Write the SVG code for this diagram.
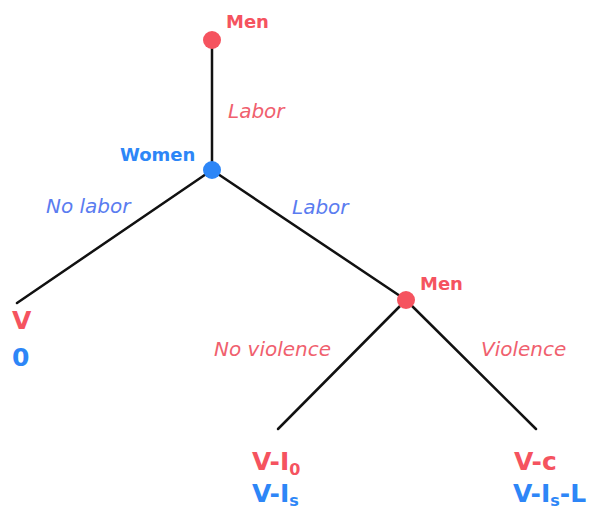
<svg xmlns="http://www.w3.org/2000/svg" width="592" height="511" viewBox="0 0 592 511">
<style>
.edge{stroke:#111;stroke-width:2.5;stroke-linecap:round;fill:none}
.name{font-family:"DejaVu Sans",Verdana,sans-serif;font-weight:bold;font-size:18px}
.act{font-family:"DejaVu Sans",Verdana,sans-serif;font-style:italic;font-size:20px}
.pay{font-family:"DejaVu Sans",Verdana,sans-serif;font-weight:bold;font-size:25px}
.r{fill:#f5535f}
.b{fill:#2d86f7}
.ra{fill:#f0606e}
.ba{fill:#5a7cf0}
.sub{font-size:16px}
</style>
<rect width="592" height="511" fill="#fff"/>
<g id="connectors">
<line class="edge" x1="212" y1="40" x2="212" y2="170"/>
<line class="edge" x1="212" y1="170" x2="17" y2="303"/>
<line class="edge" x1="212" y1="170" x2="406" y2="300"/>
<line class="edge" x1="406" y1="300" x2="278" y2="429"/>
<line class="edge" x1="406" y1="300" x2="536" y2="429"/>
<text class="act ra" x="228" y="118">Labor</text>
<text class="act ba" x="46" y="213">No labor</text>
<text class="act ba" x="292" y="214">Labor</text>
<text class="act ra" x="214" y="356">No violence</text>
<text class="act ra" x="481" y="356">Violence</text>
</g>
<g id="node-men-root">
<circle cx="212" cy="40" r="9" class="r"/>
<text class="name r" x="226" y="28">Men</text>
</g>
<g id="node-women">
<circle cx="212" cy="170" r="9" class="b"/>
<text class="name b" x="120" y="161">Women</text>
</g>
<g id="node-men">
<circle cx="406" cy="300" r="9" class="r"/>
<text class="name r" x="420" y="290">Men</text>
</g>
<g id="leaf-nolabor">
<text class="pay r" x="12" y="329">V</text>
<text class="pay b" x="12" y="366">0</text>
</g>
<g id="leaf-noviolence">
<text class="pay r" x="252" y="470">V-I<tspan class="sub" dy="5">0</tspan></text>
<text class="pay b" x="252" y="502">V-I<tspan class="sub" dy="4">s</tspan></text>
</g>
<g id="leaf-violence">
<text class="pay r" x="514" y="470">V-c</text>
<text class="pay b" x="513" y="502">V-I<tspan class="sub" dy="4">s</tspan><tspan dy="-4">-L</tspan></text>
</g>
</svg>
